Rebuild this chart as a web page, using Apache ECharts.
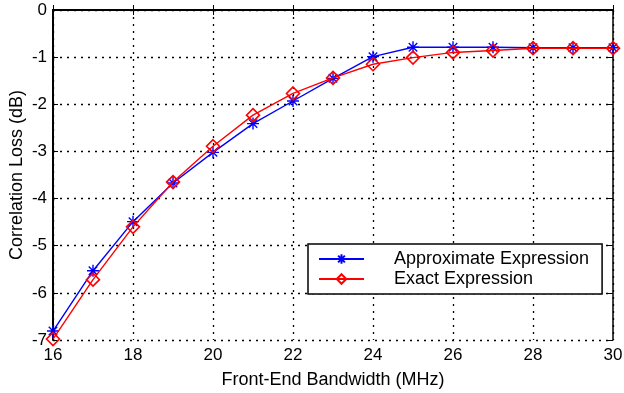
<!DOCTYPE html>
<html><head><meta charset="utf-8">
<script src="https://cdn.jsdelivr.net/npm/echarts@6/dist/echarts.min.js"></script>
<style>html,body{margin:0;padding:0;background:#fff}#c{width:624px;height:393px}</style>
</head><body><div id="c"></div>
<script>
var bandwidth = [16,17,18,19,20,21,22,23,24,25,26,27,28,29,30];
var approxLoss = [-6.81,-5.53,-4.49,-3.67,-3.02,-2.41,-1.93,-1.45,-0.99,-0.79,-0.79,-0.79,-0.8,-0.8,-0.8];
var exactLoss = [-6.98,-5.72,-4.6,-3.65,-2.89,-2.23,-1.77,-1.44,-1.15,-1.01,-0.9,-0.86,-0.81,-0.81,-0.81];
var seriesNames = ['Approximate Expression','Exact Expression'];
var xTitle = 'Front-End Bandwidth (MHz)';
var yTitle = 'Correlation Loss (dB)';

var FONT = 'Liberation Sans, Arial, Helvetica, sans-serif';
var star = 'path://M0,-10L0,10M-10,0L10,0M-7.07,-7.07L7.07,7.07M-7.07,7.07L7.07,-7.07';
function pairs(ys){return bandwidth.map(function(x,i){return [x,ys[i]];});}
var chart = echarts.init(document.getElementById('c'), null, {renderer:'canvas'});
chart.setOption({
  animation:false,
  grid:{left:53, right:11, top:10, bottom:53, show:false, containLabel:false, outerBoundsMode:'none'},
  xAxis:[{
    type:'value', min:16, max:30, interval:2, position:'bottom',
    name:xTitle, nameLocation:'middle', nameGap:31, nameMoveOverlap:false,
    nameTextStyle:{fontFamily:FONT, fontSize:18, color:'#000'},
    axisLine:{lineStyle:{color:'#000', width:2}},
    axisTick:{inside:true, length:5, lineStyle:{color:'#000', width:1}},
    axisLabel:{fontFamily:FONT, fontSize:17, color:'#000', margin:7},
    splitLine:{show:true, lineStyle:{color:'#000', width:1.3, type:[2,5]}}
  },{
    type:'value', min:16, max:30, interval:2, position:'top',
    axisLine:{show:true, lineStyle:{color:'#000', width:2}},
    axisTick:{show:true, inside:true, length:5, lineStyle:{color:'#000', width:1}},
    axisLabel:{show:false}, splitLine:{show:false}
  }],
  yAxis:[{
    type:'value', min:-7, max:0, interval:1, position:'left',
    name:yTitle, nameLocation:'middle', nameGap:27, nameMoveOverlap:false,
    nameTextStyle:{fontFamily:FONT, fontSize:18, color:'#000'},
    axisLine:{show:true, lineStyle:{color:'#000', width:2}},
    axisTick:{show:true, inside:true, length:5, lineStyle:{color:'#000', width:1}},
    axisLabel:{fontFamily:FONT, fontSize:17, color:'#000', margin:6},
    splitLine:{show:true, lineStyle:{color:'#000', width:1.3, type:[2,5]}}
  },{
    type:'value', min:-7, max:0, interval:1, position:'right',
    axisLine:{show:true, lineStyle:{color:'#000', width:1.5}},
    axisTick:{show:true, inside:true, length:5, lineStyle:{color:'#000', width:1}},
    axisLabel:{show:false}, splitLine:{show:false}
  }],
  legend:{
    left:308, top:244, orient:'vertical',
    backgroundColor:'#fff', borderColor:'#000', borderWidth:1.5,
    padding:[6,13,6,10], itemGap:2, itemWidth:45, itemHeight:12,
    textStyle:{fontFamily:FONT, fontSize:18, color:'#000', padding:[0,0,0,25], width:200},
    data:seriesNames
  },
  series:[{
    name:seriesNames[0], type:'line', data:pairs(approxLoss),
    symbol:star, symbolSize:12,
    lineStyle:{color:'#0000ff', width:1.4},
    itemStyle:{color:'#0000ff', borderColor:'#0000ff', borderWidth:1.4},
    z:3
  },{
    name:seriesNames[1], type:'line', data:pairs(exactLoss),
    symbol:'diamond', symbolSize:13,
    lineStyle:{color:'#ff0000', width:1.4},
    itemStyle:{color:'rgba(255,255,255,0)', borderColor:'#ff0000', borderWidth:1.6},
    z:4
  }]
});
</script></body></html>
